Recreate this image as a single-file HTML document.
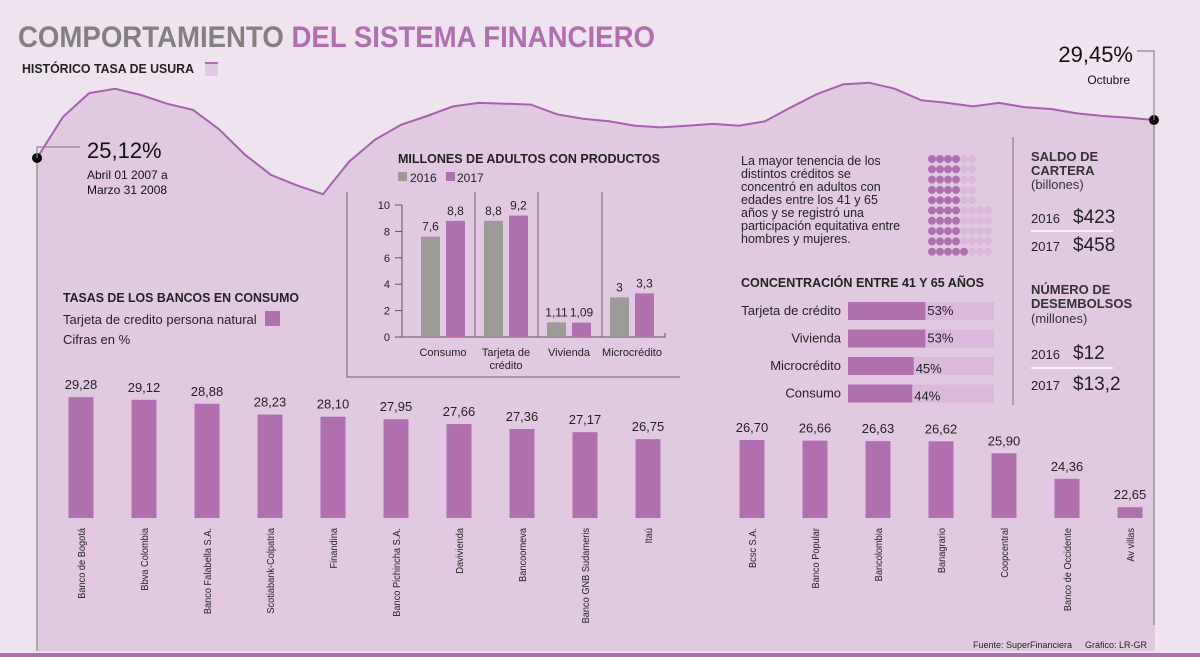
<!DOCTYPE html>
<html><head><meta charset="utf-8"><style>
html,body{margin:0;padding:0;background:#f0e3f0}
svg{display:block;font-family:"Liberation Sans",sans-serif}
</style></head><body>
<svg id="chart" width="1200" height="657" viewBox="0 0 1200 657" xmlns="http://www.w3.org/2000/svg">
<rect x="0" y="0" width="1200" height="657" fill="#f0e3f0"/>
<g id="usura"></g>
<text x="18" y="47" font-size="30" font-weight="bold" textLength="637" lengthAdjust="spacingAndGlyphs"><tspan fill="#848080">COMPORTAMIENTO </tspan><tspan fill="#b070b0">DEL SISTEMA FINANCIERO</tspan></text>
<text x="22" y="73" font-size="13" font-weight="bold" fill="#222" textLength="172" lengthAdjust="spacingAndGlyphs">HISTÓRICO TASA DE USURA</text>
<rect x="205" y="63" width="13" height="13" fill="#e2c8e2"/>
<line x1="205" y1="63" x2="218" y2="63" stroke="#b070b0" stroke-width="2"/>
<polyline points="37,158 37,147 80,147" fill="none" stroke="#888" stroke-width="1.2"/>
<text x="87" y="158" font-size="22" fill="#111">25,12%</text>
<text x="87" y="179" font-size="12" fill="#111">Abril 01 2007 a</text>
<text x="87" y="194" font-size="12" fill="#111">Marzo 31 2008</text>
<polyline points="1137,51 1154,51 1154,120" fill="none" stroke="#888" stroke-width="1.2"/>
<text x="1133" y="62" font-size="22" fill="#111" text-anchor="end">29,45%</text>
<text x="1130" y="84" font-size="12" fill="#111" text-anchor="end">Octubre</text>

<g id="inner">
<text x="398" y="163" font-size="13" font-weight="bold" fill="#222" textLength="262" lengthAdjust="spacingAndGlyphs">MILLONES DE ADULTOS CON PRODUCTOS</text>
<rect x="398" y="172" width="9" height="9" fill="#9e9a98"/>
<text x="410" y="182" font-size="12" fill="#222">2016</text>
<rect x="446" y="172" width="9" height="9" fill="#b070b0"/>
<text x="457" y="182" font-size="12" fill="#222">2017</text>
<polyline points="347,192 347,377 680,377" fill="none" stroke="#666" stroke-width="1"/>
</g>

<g>
<text font-size="12.5" fill="#222">
<tspan x="741" y="165">La mayor tenencia de los</tspan>
<tspan x="741" y="178">distintos créditos se</tspan>
<tspan x="741" y="191">concentró en adultos con</tspan>
<tspan x="741" y="204">edades entre los 41 y 65</tspan>
<tspan x="741" y="217">años y se registró una</tspan>
<tspan x="741" y="230">participación equitativa entre</tspan>
<tspan x="741" y="243">hombres y mujeres.</tspan>
</text>
<g id="dots"></g>
<text x="741" y="287" font-size="13" font-weight="bold" fill="#222" textLength="243" lengthAdjust="spacingAndGlyphs">CONCENTRACIÓN ENTRE 41 Y 65 AÑOS</text>
<g id="conc"></g>
<line x1="1013" y1="137" x2="1013" y2="405" stroke="#777" stroke-width="1"/>
<text font-size="13" font-weight="bold" fill="#333"><tspan x="1031" y="161">SALDO DE</tspan><tspan x="1031" y="175">CARTERA</tspan></text>
<text x="1031" y="189" font-size="13" fill="#333">(billones)</text>
<text x="1031" y="223" font-size="13" fill="#222">2016</text>
<text x="1073" y="223" font-size="19" fill="#222">$423</text>
<line x1="1031" y1="231" x2="1113" y2="231" stroke="#fff" stroke-width="1.5"/>
<text x="1031" y="251" font-size="13" fill="#222">2017</text>
<text x="1073" y="251" font-size="19" fill="#222">$458</text>
<text font-size="13" font-weight="bold" fill="#333"><tspan x="1031" y="294">NÚMERO DE</tspan><tspan x="1031" y="308">DESEMBOLSOS</tspan></text>
<text x="1031" y="323" font-size="13" fill="#333">(millones)</text>
<text x="1031" y="359" font-size="13" fill="#222">2016</text>
<text x="1073" y="359" font-size="19" fill="#222">$12</text>
<line x1="1031" y1="368" x2="1113" y2="368" stroke="#fff" stroke-width="1.5"/>
<text x="1031" y="390" font-size="13" fill="#222">2017</text>
<text x="1073" y="390" font-size="19" fill="#222">$13,2</text>
</g>

<text x="63" y="302" font-size="13" font-weight="bold" fill="#222" textLength="236" lengthAdjust="spacingAndGlyphs">TASAS DE LOS BANCOS EN CONSUMO</text>
<text x="63" y="324" font-size="13" fill="#222">Tarjeta de credito persona natural</text>
<rect x="265" y="311" width="15" height="15" fill="#b070b0"/>
<text x="63" y="344" font-size="13" fill="#222">Cifras en %</text>
<g id="banks"></g>
<text x="1072" y="648" font-size="9" fill="#222" text-anchor="end">Fuente: SuperFinanciera</text>
<text x="1085" y="648" font-size="9" fill="#222">Gráfico: LR-GR</text>
<rect x="0" y="653" width="1200" height="4" fill="#b070b0"/>
</svg>
<script>
const usuryRates = [25.12,29.8,32.5,33.0,32.3,31.3,30.6,28.4,25.5,23.2,22.0,21.0,24.7,27.2,28.9,29.9,31.0,31.4,31.3,31.2,30.1,29.6,29.3,28.8,28.6,28.8,29.0,28.8,29.3,30.9,32.4,33.5,33.7,33.0,31.7,31.4,31.0,31.4,30.9,30.7,30.2,29.9,29.7,29.45];
const productCats = [["Consumo"],["Tarjeta de","crédito"],["Vivienda"],["Microcrédito"]];
const products2016 = [7.6,8.8,1.11,3];
const products2017 = [8.8,9.2,1.09,3.3];
const products2016Labels = ["7,6","8,8","1,11","3"];
const products2017Labels = ["8,8","9,2","1,09","3,3"];
const productTicks = [0,2,4,6,8,10];
const concCats = ["Tarjeta de crédito","Vivienda","Microcrédito","Consumo"];
const concValues = [53,53,45,44];
const dotDark = [4,4,4,4,4,4,4,4,4,5];
const dotTotal = [6,6,6,6,6,8,8,8,8,8];
const bankNames = ["Banco de Bogotá","Bbva Colombia","Banco Falabella S.A.","Scotiabank-Colpatria","Finandina","Banco Pichincha S.A.","Davivienda","Bancoomeva","Banco GNB Sudameris","Itaú","Bcsc S.A.","Banco Popular","Bancolombia","Banagrario","Coopcentral","Banco de Occidente","Av villas"];
const bankRates = [29.28,29.12,28.88,28.23,28.10,27.95,27.66,27.36,27.17,26.75,26.70,26.66,26.63,26.62,25.90,24.36,22.65];
const bankLabels = ["29,28","29,12","28,88","28,23","28,10","27,95","27,66","27,36","27,17","26,75","26,70","26,66","26,63","26,62","25,90","24,36","22,65"];

const NS="http://www.w3.org/2000/svg";
function mk(tag,attrs,parent){const e=document.createElementNS(NS,tag);for(const k in attrs)e.setAttribute(k,attrs[k]);parent.appendChild(e);return e;}

const ug=document.getElementById('usura');
const ux=i=>37+i*(1155-37)/(usuryRates.length-1);
const uy=v=>158-(v-25.12)*8.78;
let pts=usuryRates.map((v,i)=>ux(i).toFixed(1)+','+uy(v).toFixed(1));
const area=mk('polygon',{points:'37,651 '+pts.join(' ')+' 1155,651',fill:'#e2c9e2'},ug);


const ln=mk('polyline',{points:pts.join(' '),fill:'none',stroke:'#a860b0','stroke-width':2},ug);


mk('line',{x1:37,y1:158,x2:37,y2:651,stroke:'#888','stroke-width':1.2},ug);
mk('line',{x1:1154,y1:120,x2:1154,y2:625,stroke:'#888','stroke-width':1.2},ug);
const d1=mk('circle',{cx:ux(0),cy:uy(usuryRates[0]),r:5,fill:'#000'},ug);


const d2=mk('circle',{cx:ux(usuryRates.length-1)-1,cy:uy(usuryRates[usuryRates.length-1]),r:5,fill:'#000'},ug);



const ig=document.getElementById('inner');
const py=v=>337-v*13.2;
mk('line',{x1:402,y1:py(10),x2:402,y2:337,stroke:'#555'},ig);
mk('polyline',{points:'402,337 665,337 665,333',fill:'none',stroke:'#555'},ig);
[475,538,602].forEach(x=>mk('line',{x1:x,y1:192,x2:x,y2:337,stroke:'#666'},ig));
productTicks.forEach(t=>{
  mk('line',{x1:395,y1:py(t),x2:402,y2:py(t),stroke:'#555'},ig);
  const tx=mk('text',{x:390,y:py(t)+4,'font-size':11,fill:'#222','text-anchor':'end'},ig);
  tx.textContent=t;
  
  
});
const gx=[421,484,547,610];
productCats.forEach((c,i)=>{
  const b1=mk('rect',{x:gx[i],y:py(products2016[i]),width:19,height:337-py(products2016[i]),fill:'#9e9a98'},ig);
  
  
  const b2=mk('rect',{x:gx[i]+25,y:py(products2017[i]),width:19,height:337-py(products2017[i]),fill:'#b070b0'},ig);
  
  
  const l1=mk('text',{x:gx[i]+9.5,y:py(products2016[i])-6,'font-size':12,fill:'#222','text-anchor':'middle'},ig);
  l1.textContent=products2016Labels[i];
  
  
  const l2=mk('text',{x:gx[i]+34.5,y:py(products2017[i])-6,'font-size':12,fill:'#222','text-anchor':'middle'},ig);
  l2.textContent=products2017Labels[i];
  
  
  c.forEach((s,j)=>{
    const ct=mk('text',{x:gx[i]+22,y:356+j*13,'font-size':11,fill:'#222','text-anchor':'middle'},ig);
    ct.textContent=s;
    
    
  });
});

const dg=document.getElementById('dots');
dotTotal.forEach((n,r)=>{for(let c=0;c<n;c++){
  const d=mk('circle',{cx:932+c*8,cy:159+r*10.3,r:4,fill:c<dotDark[r]?'#b070b0':'#dcb8dc'},dg);
  
  
}});

const cg=document.getElementById('conc');
concCats.forEach((c,i)=>{
  const y=302+i*27.5;
  const bg=mk('rect',{x:848,y:y,width:146,height:18,fill:'#dcb8dc'},cg);
  
  
  const w=concValues[i]/100*146;
  const fg=mk('rect',{x:848,y:y,width:w,height:18,fill:'#b070b0'},cg);
  
  
  const lt=mk('text',{x:841,y:y+13,'font-size':13,fill:'#222','text-anchor':'end'},cg);
  lt.textContent=c;
  
  
  const vt=mk('text',{x:848+w+2,y:y+(concValues[i]<50?16:13),'font-size':13,fill:'#222'},cg);
  vt.textContent=concValues[i]+'%';
  
  
});

const bg2=document.getElementById('banks');
const by=v=>518-(v-22)*16.6;
bankRates.forEach((v,i)=>{
  const cx=i<10?81+i*63:752+(i-10)*63;
  const r=mk('rect',{x:cx-12.5,y:by(v),width:25,height:518-by(v),fill:'#b070b0'},bg2);
  
  
  const t=mk('text',{x:cx,y:by(v)-8,'font-size':13,fill:'#222','text-anchor':'middle'},bg2);
  t.textContent=bankLabels[i];
  
  
  const n=mk('text',{x:0,y:0,'font-size':10.5,fill:'#222','text-anchor':'end',transform:'translate('+(cx+4)+',528) rotate(-90) scale(0.88,1)'},bg2);
  n.textContent=bankNames[i];
  
  
});
</script>
</body></html>
